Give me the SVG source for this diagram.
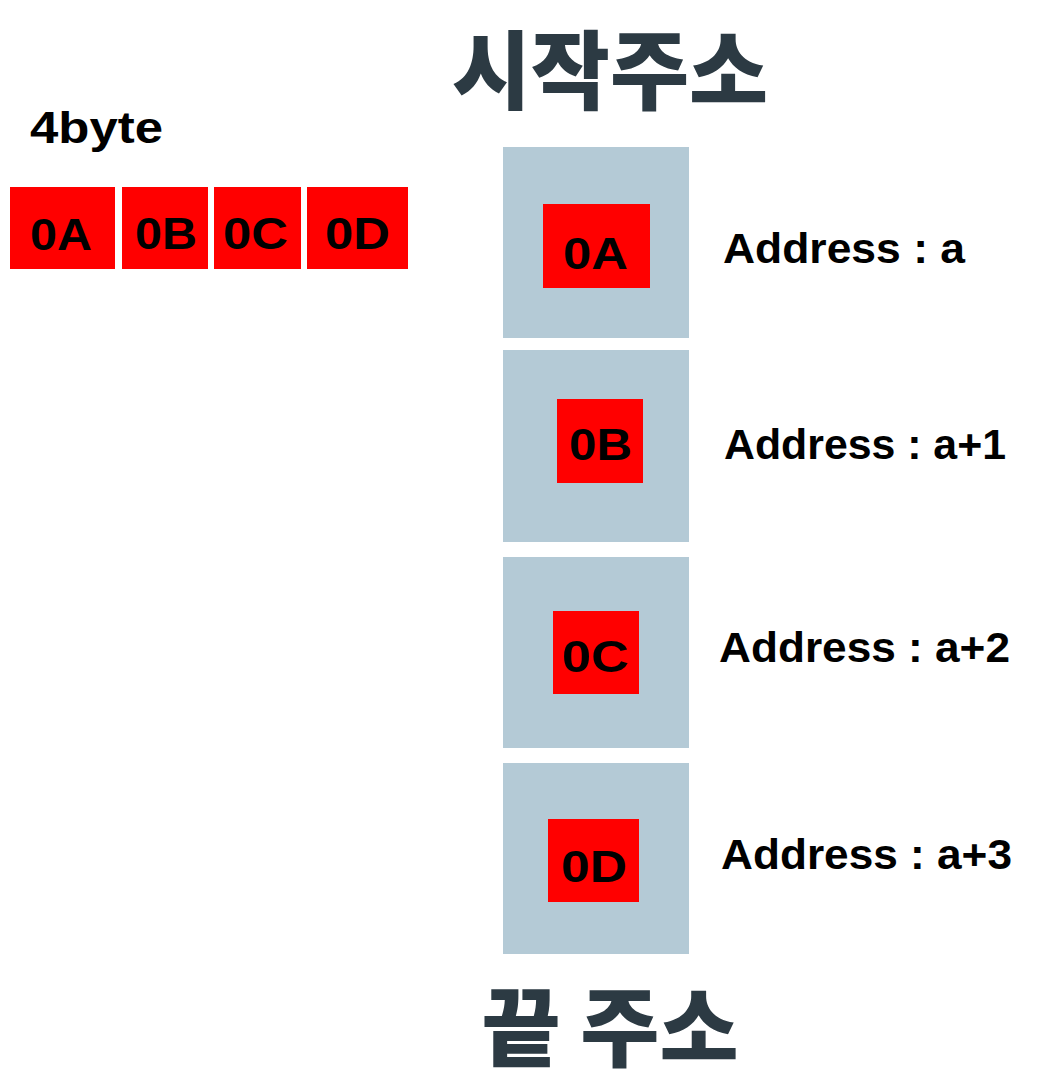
<svg xmlns="http://www.w3.org/2000/svg" width="1060" height="1092" viewBox="0 0 1060 1092">
<style>
.red{fill:#ff0000}
.gray{fill:#b4cad6}
.lbl{font-family:"Liberation Sans",Arial,sans-serif;font-weight:bold;fill:#000;font-size:44px}
.addr{font-family:"Liberation Sans",Arial,sans-serif;font-weight:bold;fill:#000;font-size:43px}
.title{font-family:"Noto Sans CJK KR","Noto Sans",sans-serif;font-weight:900;fill:#2c3a43;font-size:86px;text-anchor:middle}
</style>
<rect width="1060" height="1092" fill="#fff"/>
<text id="title-start" class="title" x="610" y="103">시작주소</text>
<text id="title-end" class="title" x="610" y="1060">끝 주소</text>
<g id="word">
<text class="lbl" x="30" y="143" font-size="36" textLength="133" lengthAdjust="spacingAndGlyphs">4byte</text>
<g id="w0A"><rect class="red" x="10" y="187" width="105" height="82"/><text class="lbl" x="30" y="250" textLength="62" lengthAdjust="spacingAndGlyphs">0A</text></g>
<g id="w0B"><rect class="red" x="122" y="187" width="86" height="82"/><text class="lbl" x="135" y="249" textLength="62" lengthAdjust="spacingAndGlyphs">0B</text></g>
<g id="w0C"><rect class="red" x="214" y="187" width="87" height="82"/><text class="lbl" x="223" y="249" textLength="65" lengthAdjust="spacingAndGlyphs">0C</text></g>
<g id="w0D"><rect class="red" x="307" y="187" width="101" height="82"/><text class="lbl" x="325" y="249" textLength="65" lengthAdjust="spacingAndGlyphs">0D</text></g>
</g>
<g id="cell0">
<rect class="gray" x="503" y="147" width="186" height="191"/>
<rect class="red" x="543" y="204" width="107" height="84"/>
<text class="lbl" x="563" y="269" textLength="65" lengthAdjust="spacingAndGlyphs">0A</text>
<text class="addr" x="723" y="263" textLength="242" lengthAdjust="spacingAndGlyphs">Address : a</text>
</g>
<g id="cell1">
<rect class="gray" x="503" y="350" width="186" height="192"/>
<rect class="red" x="557" y="399" width="86" height="84"/>
<text class="lbl" x="569" y="460" textLength="63" lengthAdjust="spacingAndGlyphs">0B</text>
<text class="addr" x="724" y="459" textLength="282" lengthAdjust="spacingAndGlyphs">Address : a+1</text>
</g>
<g id="cell2">
<rect class="gray" x="503" y="557" width="186" height="191"/>
<rect class="red" x="553" y="611" width="86" height="83"/>
<text class="lbl" x="562" y="672" textLength="67" lengthAdjust="spacingAndGlyphs">0C</text>
<text class="addr" x="719" y="662" textLength="291" lengthAdjust="spacingAndGlyphs">Address : a+2</text>
</g>
<g id="cell3">
<rect class="gray" x="503" y="763" width="186" height="191"/>
<rect class="red" x="548" y="819" width="91" height="83"/>
<text class="lbl" x="561" y="882" textLength="66" lengthAdjust="spacingAndGlyphs">0D</text>
<text class="addr" x="721" y="869" textLength="291" lengthAdjust="spacingAndGlyphs">Address : a+3</text>
</g>
<g id="connectors"/>
</svg>
